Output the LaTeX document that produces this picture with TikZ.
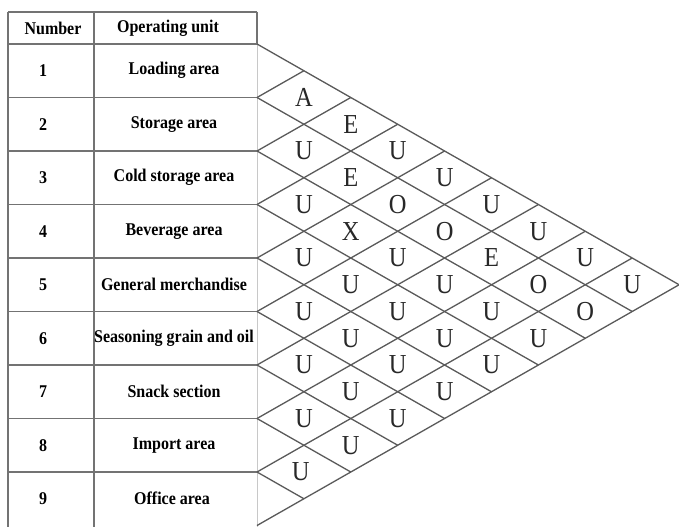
\documentclass[tikz,border=0pt]{standalone}
\usepackage{fontspec}
\setmainfont{Liberation Serif}
\usepackage{xcolor}
\definecolor{rulegray}{RGB}{115,115,115}
\definecolor{edgegray}{RGB}{200,200,200}
\definecolor{gridgray}{RGB}{90,90,90}
\definecolor{lettergray}{RGB}{40,40,40}
\newcommand{\tallbox}[1]{\scalebox{1}[1.12]{#1}}

\begin{document}
\begin{tikzpicture}[x=1pt,y=-1pt,
  tabtext/.style={font=\fontsize{16}{18}\selectfont\bfseries},
  relletter/.style={font=\fontsize{24.5}{27}\selectfont, text=lettergray}]

% Frame
\useasboundingbox (0,0) rectangle (679,527);
\fill[white] (0,0) rectangle (679,527);

% Sizes
\def\topy{44}
\def\rowh{53.5}
\def\leftx{257}
\def\colw{46.9}

% Table rules
\draw[rulegray, line width=1.6pt] (8,12) -- (\leftx,12);
\foreach \k in {0,...,8}{
\draw[rulegray, line width=1.6pt] (8,{\topy+\k*\rowh}) -- (\leftx,{\topy+\k*\rowh});
}
\draw[rulegray, line width=1.6pt] (8,12) -- (8,527);
\draw[rulegray, line width=1.6pt] (94,12) -- (94,527);
\draw[rulegray, line width=1.6pt] (\leftx,12) -- (\leftx,\topy);
\draw[edgegray, line width=1pt] (\leftx,\topy) -- (\leftx,527);

% Header
\node[tabtext] (hnum) at (53,28) {\tallbox{Number}};
\node[tabtext] (hunit) at (168,28) {\tallbox{Operating unit}};

% Rows
\foreach \n/\name in {
1/Loading area,
2/Storage area,
3/Cold storage area,
4/Beverage area,
5/General merchandise,
6/Seasoning grain and oil,
7/Snack section,
8/Import area,
9/Office area
}{
\node[tabtext] (num\n) at (43,{\topy+(\n-0.5)*\rowh}) {\tallbox{\n}};
\node[tabtext] (unit\n) at (174,{\topy+(\n-0.5)*\rowh}) {\tallbox{\name}};
}

% Relationship grid
\foreach \k in {0,...,9}{
\draw[gridgray, line width=1.3pt] (\leftx,{\topy+\k*\rowh}) -- ++({(9-\k)*\colw},{(9-\k)*\rowh/2});
\draw[gridgray, line width=1.3pt] (\leftx,{\topy+\k*\rowh}) -- ++({\k*\colw},{-\k*\rowh/2});
}

% Closeness ratings
\foreach \i/\j/\r in {
1/2/A, 1/3/E, 1/4/U, 1/5/U, 1/6/U, 1/7/U, 1/8/U, 1/9/U,
2/3/U, 2/4/E, 2/5/O, 2/6/O, 2/7/E, 2/8/O, 2/9/O,
3/4/U, 3/5/X, 3/6/U, 3/7/U, 3/8/U, 3/9/U,
4/5/U, 4/6/U, 4/7/U, 4/8/U, 4/9/U,
5/6/U, 5/7/U, 5/8/U, 5/9/U,
6/7/U, 6/8/U, 6/9/U,
7/8/U, 7/9/U,
8/9/U
}{
\node[relletter] (rel\i\j) at ({\leftx+(\j-\i)*\colw},{\topy+((\i+\j)/2-0.5)*\rowh}) {\tallbox{\r}};
}

\end{tikzpicture}
\end{document}
